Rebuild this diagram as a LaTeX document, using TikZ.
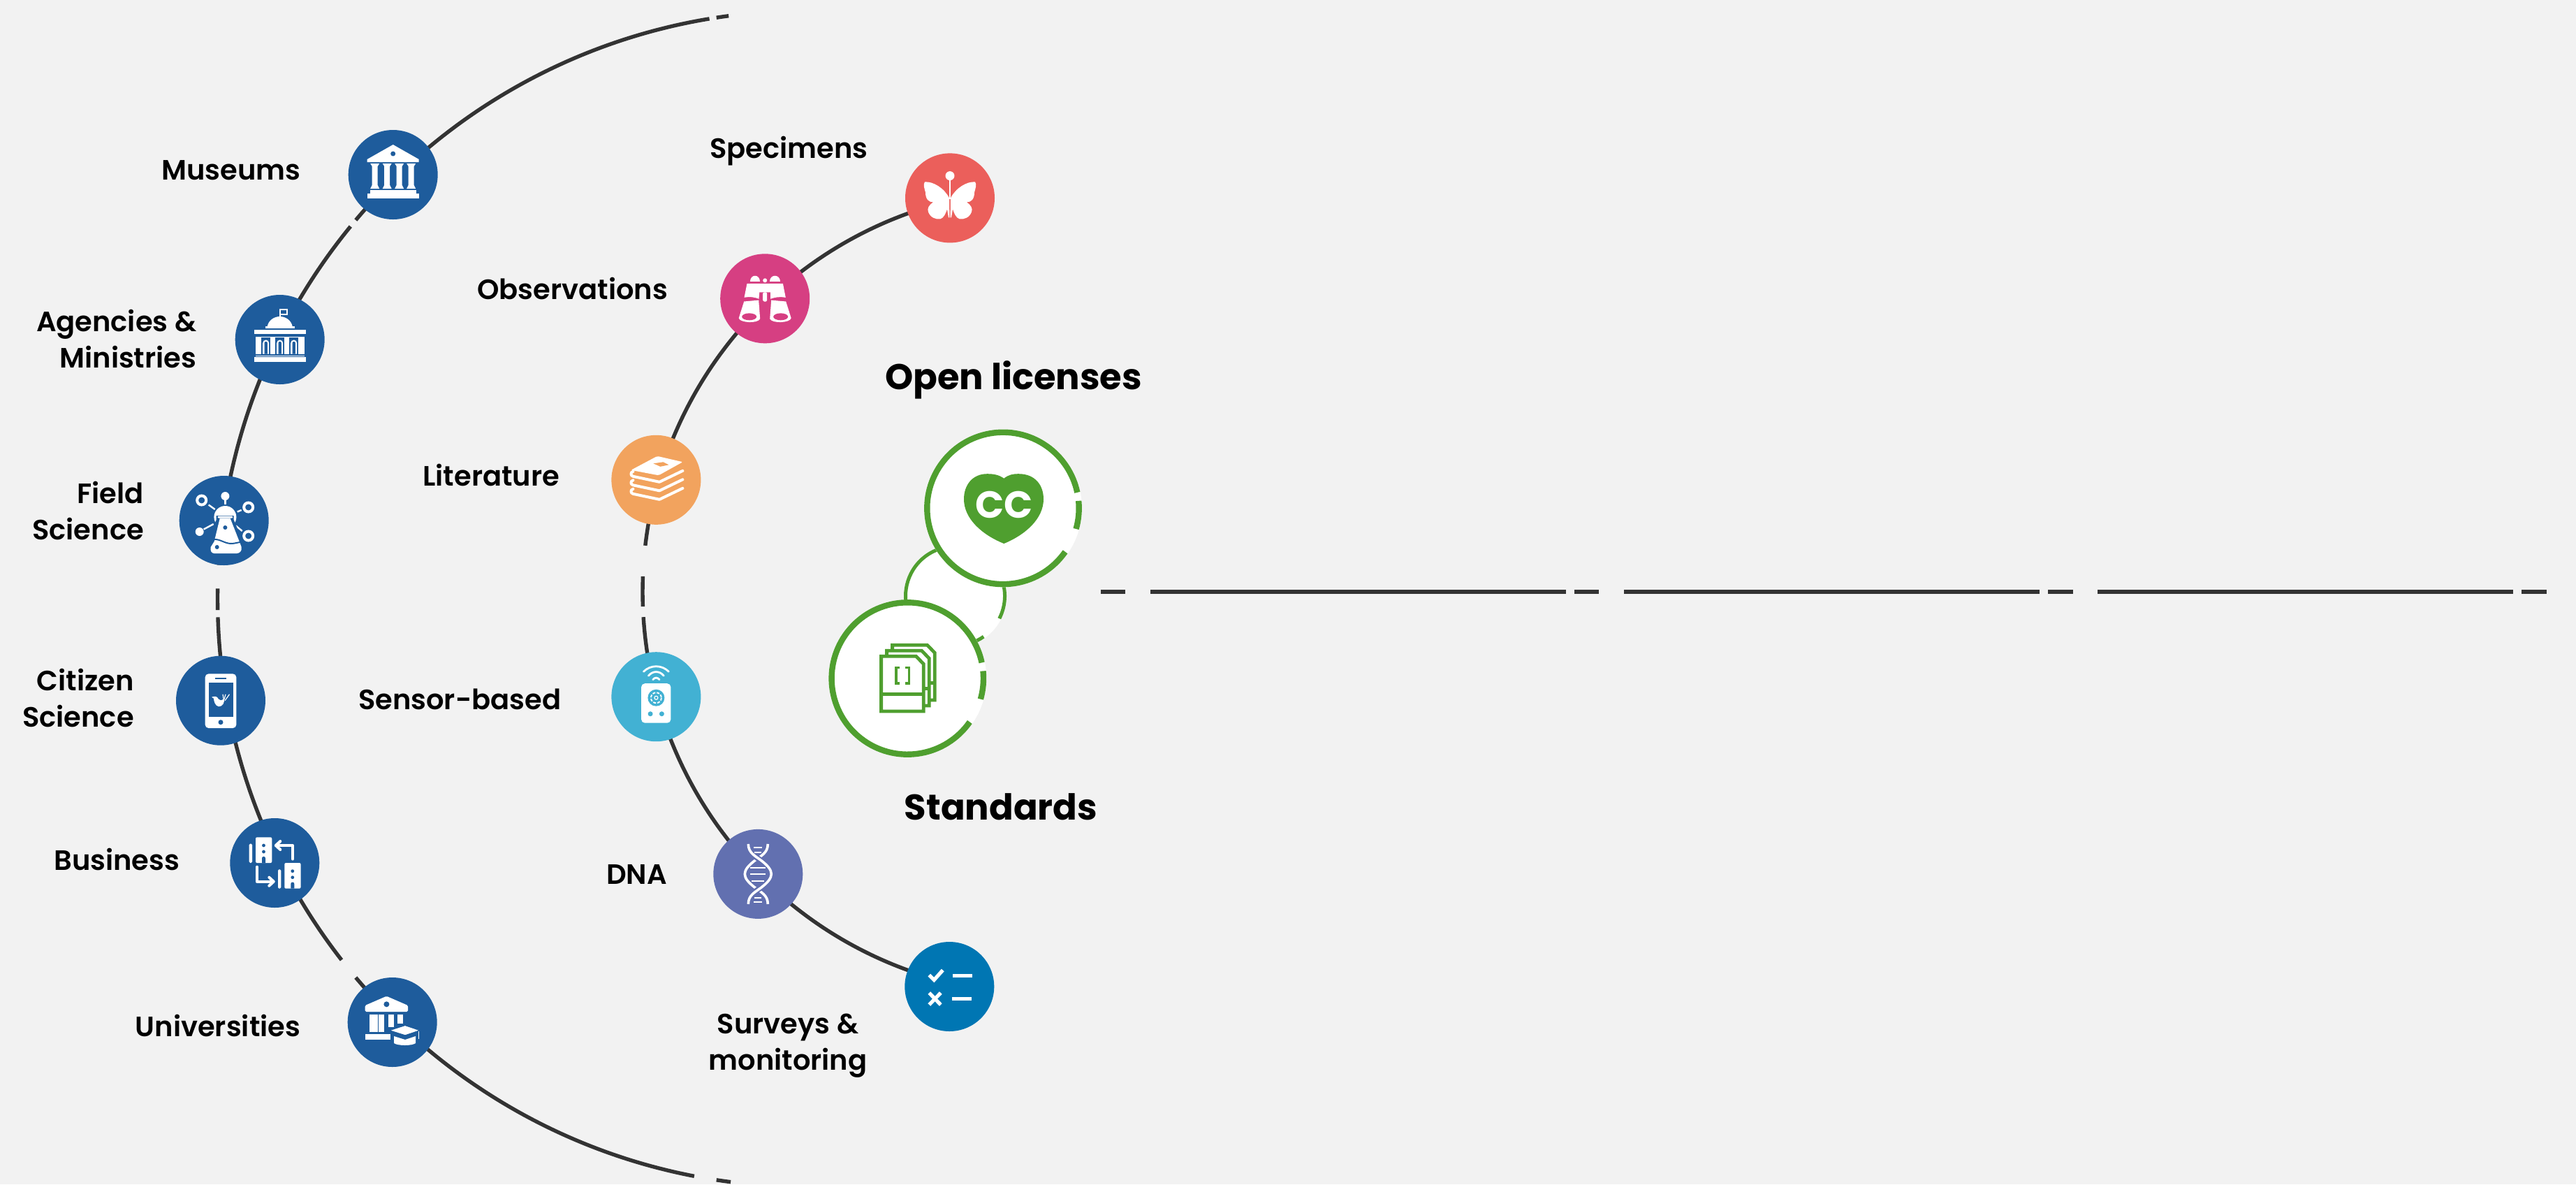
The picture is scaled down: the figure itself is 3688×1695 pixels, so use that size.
\documentclass[tikz,border=0pt]{standalone}
\usepackage{fontspec}
\setmainfont{Poppins SemiBold}[BoldFont={Poppins Bold}]
\newfontfamily\ccfont{Poppins Bold}
\definecolor{pagegray}{HTML}{F2F2F2}
\definecolor{linegray}{HTML}{333333}
\definecolor{instblue}{HTML}{1E5C9C}
\definecolor{specred}{HTML}{EB5F5B}
\definecolor{obspink}{HTML}{D63F82}
\definecolor{litorange}{HTML}{F2A35E}
\definecolor{sensorcyan}{HTML}{42B1D3}
\definecolor{dnapurple}{HTML}{6270B0}
\definecolor{surveyblue}{HTML}{0076B3}
\definecolor{opengreen}{HTML}{4F9F2F}
\tikzset{
  ringline/.style={draw=linegray,line width=1.35pt},
  badge/.style={circle,inner sep=0pt,minimum size=32pt,fill=#1},
  bigbadge/.style={circle,inner sep=0pt,minimum size=56.5pt,fill=white},
  greenring/.style={draw=opengreen,line width=2.1pt},
  lbl/.style={inner sep=0pt,font=\fontsize{10}{13}\selectfont,align=right},
  headlbl/.style={inner sep=0pt,font=\fontsize{12.8}{14}\selectfont\bfseries},
  iconline/.style={draw=white,line width=#1,line cap=round,line join=round},
  iconbutt/.style={draw=white,line width=#1},
  pageline/.style={draw=opengreen,fill=white,line width=1.2pt},
}
\begin{document}
\begin{tikzpicture}[x=0.25pt,y=0.25pt,yscale=-1,xscale=1]
\useasboundingbox (0,0) rectangle (3688,1695);
\fill[pagegray] (0,0) rectangle (3688,1695);
\coordinate (outercentre) at (1153,857);
\coordinate (innercentre) at (1496,847);
\coordinate (railstart) at (1575.6,846.7);
\coordinate (railend) at (3646,846.7);

%Arc: outer ring
\foreach \from/\to in {262.5/261.3,260.6/220.1,219.3/183.3,181.0/178.9,178.2/142.1,139.9/100.9,98.7/97.3}
  \draw[ringline] (outercentre) ++(\from:841.5) arc[start angle=\from,end angle=\to,radius=841.5];
%Arc: inner ring
\foreach \from/\to in {256.4/186.6,182.2/177.9,176.4/103.6}
  \draw[ringline] (innercentre) ++(\from:576) arc[start angle=\from,end angle=\to,radius=576];
%Straight Lines: rail
\draw[draw=linegray,line width=1.5pt,dash pattern=on 8.9pt off 8.9pt on 148.75pt off 3pt] (railstart) -- (railend);

%Shape: Circle (outer ring)
\node[badge=instblue] (museum) at (562.7,250) {};
\node[badge=instblue] (agency) at (400.7,486) {};
\node[badge=instblue] (field) at (320.7,745) {};
\node[badge=instblue] (citizen) at (316,1002.7) {};
\node[badge=instblue] (business) at (393.3,1235) {};
\node[badge=instblue] (university) at (561.7,1463) {};
%Shape: Circle (inner ring)
\node[badge=specred] (specimen) at (1360,283.4) {};
\node[badge=obspink] (observation) at (1095.2,427.3) {};
\node[badge=litorange] (literature) at (939.4,686.8) {};
\node[badge=sensorcyan] (sensor) at (939.4,997.2) {};
\node[badge=dnapurple] (dna) at (1085.3,1250.9) {};
\node[badge=surveyblue] (survey) at (1359.3,1412) {};

%Shape: Circle (green group)
\node[circle,inner sep=0pt,minimum size=36.75pt,fill=white] (linkcirc) at (1367.5,853) {};
\draw[draw=opengreen,line width=1.25pt] (linkcirc.center) ++(27:71) arc[start angle=27,end angle=-190,radius=71];
\draw[draw=opengreen,line width=1.25pt] (linkcirc.center) ++(55:71) arc[start angle=55,end angle=90,radius=71];
\node[bigbadge] (licence) at (1436,727.4) {};
\draw[greenring] (licence.center) ++(35:108.7) arc[start angle=35,end angle=348,radius=108.7];
\draw[greenring] (licence.center) ++(-5.6:108.7) arc[start angle=-5.6,end angle=15.8,radius=108.7];
\node[bigbadge] (standard) at (1299.3,971) {};
\draw[greenring] (standard.center) ++(35:108.7) arc[start angle=35,end angle=348,radius=108.7];
\draw[greenring] (standard.center) ++(-5.6:108.7) arc[start angle=-5.6,end angle=15.8,radius=108.7];

%Icon: museum
\begin{scope}[shift={(museum.center)}]
\fill[white] (0,-43) -- (37,-22) -- (37,-18) -- (-37,-18) -- (-37,-22) -- cycle;
\fill[instblue] (0,-30) circle (3.5);
\foreach \cx in {-26,-8.5,9,26}{
  \fill[white] (\cx-6.5,-16) -- (\cx+6.5,-16) -- (\cx+4,-12) -- (\cx+4,15) -- (\cx+6.5,20) -- (\cx-6.5,20) -- (\cx-4,15) -- (\cx-4,-12) -- cycle;
}
\fill[white] (-33,22) rectangle (33,27);
\fill[white] (-37,27) rectangle (37,34);
\end{scope}

%Icon: agency
\begin{scope}[shift={(agency.center)}]
\draw[iconbutt=0.5pt] (0,-33) -- (0,-43) -- (10,-43) -- (10,-36) -- (0,-36);
\fill[white] (-18,-19) .. controls (-16,-28) and (-8,-33) .. (0,-33) .. controls (8,-33) and (16,-28) .. (18,-19) -- cycle;
\fill[white] (-21,-19) rectangle (21,-16);
\fill[white] (-37,-14.5) rectangle (37,-8);
\fill[white] (-35,-6) rectangle (35,24);
\fill[white] (-37,25) rectangle (37,32);
\fill[instblue] (-35,-6) rectangle (35,-4.5);
\fill[instblue] (-35,21) rectangle (35,23);
\foreach \cx in {-20,0,20}{
  \fill[instblue] (\cx-6.5,-3) rectangle (\cx+6.5,20.5);
  \fill[white] (\cx-4.5,20.5) -- (\cx-4.5,5) arc[start angle=180,end angle=360,radius=4.5] -- (\cx+4.5,20.5) -- cycle;
  \fill[instblue] (\cx-2.2,20.5) -- (\cx-2.2,5) arc[start angle=180,end angle=360,radius=2.2] -- (\cx+2.2,20.5) -- cycle;
}
\end{scope}

%Icon: field science
\begin{scope}[shift={(field.center)}]
\draw[white,line width=1pt] (-32,-29) circle (6.5);
\draw[white,line width=1pt] (35,-19) circle (6.5);
\draw[white,line width=1pt] (35,22) circle (6.5);
\fill[white] (1.7,-35) circle (6);
\fill[white] (-35,16) circle (6);
\draw[iconbutt=0.6pt] (-22,-22.5) -- (-13,-16);
\draw[iconbutt=0.6pt] (1.7,-30) -- (1.7,-23);
\draw[iconbutt=0.6pt] (19,-12.5) -- (25,-15);
\draw[iconbutt=0.6pt] (17,7.5) -- (26,15);
\draw[iconbutt=0.6pt] (-29,12.5) -- (-15,5);
\fill[white] (1.7,-5) circle (16);
\fill[instblue] (-11,-7) -- (14,-7) -- (14,-1) -- (27,30) -- (-24,30) -- (-11,-1) -- cycle;
\fill[white] (-6,-3) -- (9,-3) -- (22,30) -- (25,38) .. controls (26,44) and (22,47) .. (18,47) -- (-14,47) .. controls (-18,47) and (-20,43) .. (-19,38) -- (-14,30) -- cycle;
\fill[white,rounded corners=0.3pt] (-9,-6.5) rectangle (12.5,-3.5);
\fill[instblue] (1.7,10) circle (3);
\fill[instblue] (-10,38) circle (3);
\draw[instblue,line width=0.5pt] (-18,28) .. controls (-8,24) and (0,33) .. (10,33) .. controls (16,33) and (20,31) .. (24,31);
\end{scope}

%Icon: phone
\begin{scope}[shift={(citizen.center)}]
\fill[white,rounded corners=1.2pt] (-22.3,-38.3) rectangle (22.3,39.3);
\fill[instblue] (-17.3,-25.3) rectangle (17.7,23);
\fill[instblue] (-7.7,-33) rectangle (8,-31);
\fill[instblue] (0,31) circle (3.5);
\fill[white] (-13,-5) .. controls (-8,-7) and (-5,-6) .. (-3,-2) .. controls (1,1) and (3,-1) .. (5,-4) .. controls (6,2) and (3,9) .. (-3,8.5) .. controls (-8,8) and (-10,0) .. (-10,-3) -- cycle;
\draw[iconbutt=0.3pt] (4,-3) -- (3,-9);
\draw[iconbutt=0.3pt] (5,-2) -- (7,-9);
\draw[iconbutt=0.3pt] (6,0) -- (12.5,-9);
\end{scope}

%Icon: business
\begin{scope}[shift={(business.center)}]
\foreach \bx/\by in {-27.3/-36.7,14/0}{
  \fill[white,rounded corners=0.5pt] (\bx,\by) rectangle (\bx+23.3,\by+36.7);
  \fill[white,rounded corners=0.4pt] (\bx-9.3,\by+9.3) rectangle (\bx-5,\by+36.7);
  \fill[instblue] (\bx+11.5,\by+11.7) circle (2.4);
  \fill[instblue] (\bx+11.5,\by+20.7) circle (2.4);
  \fill[instblue] (\bx+9,\by+36.7) -- (\bx+9,\by+30) arc[start angle=180,end angle=360,radius=2.5] -- (\bx+14,\by+36.7) -- cycle;
}
\draw[iconline=1pt] (25.7,-5.5) -- (25.7,-25) -- (4,-25);
\draw[iconline=1pt] (8,-31) -- (1.5,-25) -- (8,-19);
\draw[iconline=1pt] (-25.3,5.7) -- (-25.3,26.7) -- (-4,26.7);
\draw[iconline=1pt] (-8,20.7) -- (-1.5,26.7) -- (-8,32.7);
\end{scope}

%Icon: university
\begin{scope}[shift={(university.center)}]
\fill[white,rounded corners=0.4pt] (-8.3,-37.3) -- (22.3,-24) -- (22.3,-15) -- (-39,-15) -- (-39,-24) -- cycle;
\fill[instblue] (-8.3,-25.7) circle (4);
\fill[white] (-32.7,-11) rectangle (-21,14);
\fill[white] (-19.3,-11) rectangle (-11.7,14);
\fill[white] (-5.7,-11) rectangle (2.3,6.7);
\fill[white] (7.7,-11) rectangle (15.7,1.7);
\fill[white] (-39,16.7) rectangle (-2.3,24.7);
\fill[white,draw=instblue,line width=0.5pt] (18.3,4) -- (41,11.7) -- (18.3,19.3) -- (-5.7,11.7) -- cycle;
\fill[white] (2.3,20) -- (18.3,25) -- (33.3,20) -- (33.3,30) .. controls (28,34) and (8,34) .. (2.3,30) -- cycle;
\draw[iconbutt=0.4pt] (37.7,13) -- (37.7,24);
\end{scope}

%Icon: butterfly
\begin{scope}[shift={(specimen.center)}]
\fill[white] (0,-31.8) circle (6.5);
\draw[iconbutt=0.7pt] (0,-28) -- (0,2);
\foreach \sx in {1,-1}{
  \fill[white,xscale=\sx] (1,0) .. controls (8,-14) and (24,-24) .. (36,-23) .. controls (39,-20) and (36,-12) .. (35,-8) .. controls (35,2) and (30,6) .. (24,6) .. controls (30,10) and (33,15) .. (31,20) .. controls (28,28) and (20,31) .. (14,30) .. controls (9,29) and (6,22) .. (4,16) -- (2,28) -- (0.6,28) -- (1,0) -- cycle;
}
\end{scope}

%Icon: binoculars
\begin{scope}[shift={(observation.center)}]
\foreach \sx in {1,-1}{
  \begin{scope}[xscale=\sx]
  \fill[white] (7.1,-24.5) .. controls (7.1,-35) and (21.7,-35) .. (21.7,-24.5) -- cycle;
  \fill[white] (9,2.3) -- (30,4.2) -- (37.5,28) .. controls (36,35) and (10,36) .. (7,29) -- cycle;
  \fill[obspink] (22.5,26) ellipse (10.5 and 5);
  \end{scope}
}
\fill[white] (-25.7,-21.4) -- (25.7,-21.4) -- (29.6,-1.5) .. controls (22,-3) and (14,-2) .. (8,0.4) -- (8,-9) -- (-8,-9) -- (-8.7,0.4) .. controls (-14,-2) and (-22,-3) .. (-29.7,-1.5) -- cycle;
\fill[white] (0,-26) circle (3);
\fill[white,rounded corners=0.4pt] (-3,-9) rectangle (3,4.2);
\end{scope}

%Icon: books
\begin{scope}[shift={(literature.center)}]
\fill[white,rounded corners=0.5pt] (1.6,-34) -- (38,-25.6) -- (3.6,-6.5) -- (-36,-14) -- cycle;
\fill[litorange] (-4,-23.5) -- (10,-25.5) -- (18,-21.5) -- (6,-19) -- cycle;
\foreach \dy in {0,12.5,25}{
  \draw[iconline=1pt] (38,-13+\dy) -- (4.7,3+\dy) -- (-33,-5+\dy) .. controls (-37,-6+\dy) and (-37,-11+\dy) .. (-33,-12+\dy);
}
\end{scope}

%Icon: sensor
\begin{scope}[shift={(sensor.center)}]
\draw[iconline=0.7pt] (-18,-36) .. controls (-8,-46) and (8,-46) .. (18,-36);
\draw[iconline=0.7pt] (-11,-30) .. controls (-5,-37.5) and (5,-37.5) .. (11,-30);
\draw[iconline=0.7pt] (-4.7,-24.5) .. controls (-2,-28) and (2,-28) .. (4.7,-24.5);
\fill[white,rounded corners=1.3pt] (-21.3,-19) rectangle (21,37.5);
\fill[sensorcyan] (0,1.5) circle (12);
\draw[white,line width=0.45pt,dash pattern=on 1pt off 0.5pt] (0,1.5) circle (7.5);
\draw[white,line width=0.3pt] (0,1.5) circle (2.5);
\fill[sensorcyan] (-8.3,24.5) circle (3.5);
\fill[sensorcyan] (8,24.5) circle (3.5);
\end{scope}

%Icon: dna
\begin{scope}[shift={(dna.center)}]
\draw[iconbutt=0.9pt] (14,-43) .. controls (14,-30) and (4,-26) .. (-5,-19) .. controls (-14,-12) and (-19,-6) .. (-19,0) .. controls (-19,6) and (-14,12) .. (-5,19) .. controls (4,26) and (14,30) .. (14,43);
\draw[dnapurple,line width=2pt] (-6,-27.5) .. controls (-3,-24) and (0,-22) .. (5,-19);
\draw[dnapurple,line width=2pt] (5,19) .. controls (0,22) and (-3,24) .. (-6,27.5);
\draw[iconbutt=0.9pt] (-14,-43) .. controls (-14,-30) and (-4,-26) .. (5,-19) .. controls (14,-12) and (19,-6) .. (19,0) .. controls (19,6) and (14,12) .. (5,19) .. controls (-4,26) and (-14,30) .. (-14,43);
\foreach \ry/\rw in {-38/6,-31/5,-9/11,0/11,10/9,34/5,40/6}{
  \draw[iconbutt=0.7pt] (-\rw,\ry) -- (\rw,\ry);
}
\end{scope}

%Icon: checklist
\begin{scope}[shift={(survey.center)}]
\draw[iconbutt=1.3pt] (-29,-16.5) -- (-22,-9.5) -- (-9.5,-23.5);
\draw[iconbutt=1.3pt] (4.7,-15.5) -- (33,-15.5);
\draw[iconbutt=1.3pt] (-29,9) -- (-12.5,26);
\draw[iconbutt=1.3pt] (-12.5,9) -- (-29,26);
\draw[iconbutt=1.3pt] (4,17.2) -- (32,17.2);
\end{scope}

%Icon: heart
\begin{scope}[shift={(licence.center)}]
\fill[opengreen] (1.3,-42.7) .. controls (-6,-48) and (-14,-49.2) .. (-22.7,-49.2) .. controls (-44,-49.2) and (-56,-33) .. (-56,-13) .. controls (-56,15) and (-30,38) .. (1.3,50.6) .. controls (32,38) and (58,15) .. (58,-13) .. controls (58,-33) and (46,-49.2) .. (22.3,-49.2) .. controls (14,-49.2) and (8,-48) .. (1.3,-42.7) -- cycle;
\end{scope}
% Text Node
\node[inner sep=0pt,text=white,font=\fontsize{13.5}{14}\ccfont] (cctext) at (1437.3,722.5) {CC};

%Icon: stacked pages
\begin{scope}[shift={(standard.center)}]
\foreach \ox/\oy in {16/-16,8/-8,0/0}{
  \draw[pageline] (\ox-37.7,\oy-31.7) -- (\ox+12.3,\oy-31.7) -- (\ox+23,\oy-20.7) -- (\ox+23,\oy+47) -- (\ox-37.7,\oy+47) -- cycle;
  \draw[draw=opengreen,line width=1.2pt] (\ox-37.7,\oy+22.4) -- (\ox+23,\oy+22.4);
}
\draw[draw=opengreen,line width=0.85pt] (-11.5,-15.5) -- (-16.5,-15.5) -- (-16.5,7) -- (-11.5,7);
\draw[draw=opengreen,line width=0.85pt] (-3,-15.5) -- (2,-15.5) -- (2,7) -- (-3,7);
\end{scope}

% Text Node
\node[lbl,anchor=base east] (museumlbl) at (431,257) {Museums};
% Text Node
\node[lbl,anchor=east] (agencylbl) at (282,485) {Agencies \&\\Ministries};
% Text Node
\node[lbl,anchor=east] (fieldlbl) at (206.6,731) {Field\\Science};
% Text Node
\node[lbl,anchor=east] (citizenlbl) at (192.5,999) {Citizen\\Science};
% Text Node
\node[lbl,anchor=base east] (businesslbl) at (258,1245) {Business};
% Text Node
\node[lbl,anchor=base east] (universitylbl) at (431,1483) {Universities};
% Text Node
\node[lbl,anchor=base] (specimenlbl) at (1129.4,226.8) {Specimens};
% Text Node
\node[lbl,anchor=base east] (observationlbl) at (956.8,428.5) {Observations};
% Text Node
\node[lbl,anchor=base east] (literaturelbl) at (802,695) {Literature};
% Text Node
\node[lbl,anchor=base east] (sensorlbl) at (804,1015) {Sensor-based};
% Text Node
\node[lbl,anchor=base east] (dnalbl) at (955.6,1265.5) {DNA};
% Text Node
\node[lbl,align=center] (surveylbl) at (1128,1497) {Surveys \&\\monitoring};
% Text Node
\node[headlbl,anchor=base] (licencelbl) at (1451,557.8) {Open licenses};
% Text Node
\node[headlbl,anchor=base] (standardlbl) at (1433,1173.6) {Standards};
\end{tikzpicture}
\end{document}
